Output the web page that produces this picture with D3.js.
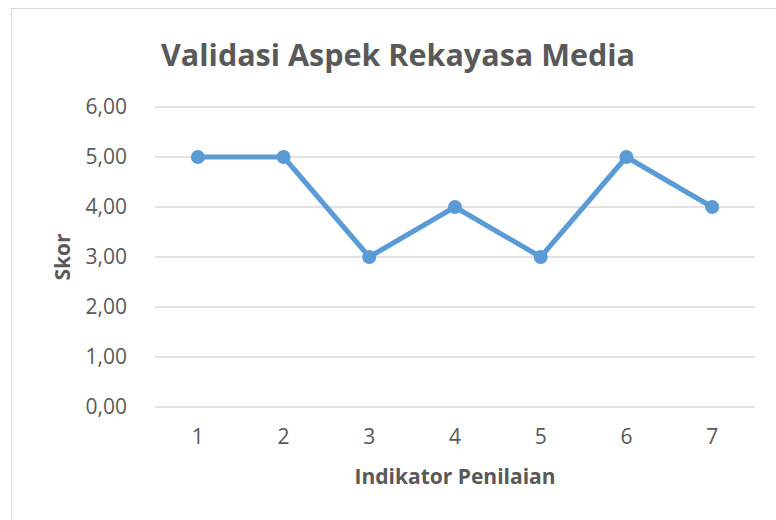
<!DOCTYPE html>
<html>
<head>
<meta charset="utf-8">
<script src="https://cdn.jsdelivr.net/npm/d3@7"></script>
<style>
  body { margin: 0; background: #fff; }
  text { font-family: "Open Sans", sans-serif; fill: #595959; }
</style>
</head>
<body>
<div id="chart"></div>
<script>
var categories = ["1", "2", "3", "4", "5", "6", "7"];
var skor = [5, 5, 3, 4, 3, 5, 4];
var yTicks = [0, 1, 2, 3, 4, 5, 6];

var margin = { top: 107, right: 21, bottom: 113, left: 155 };
var width = 776 - margin.left - margin.right;
var height = 520 - margin.top - margin.bottom;

var svg = d3.select("#chart")
    .append("svg")
    .attr("width", 776)
    .attr("height", 520);

// chart frame
svg.append("rect")
    .attr("x", 11.5).attr("y", 8.5)
    .attr("width", 800).attr("height", 600)
    .attr("fill", "none")
    .attr("stroke", "#d9d9d9");

var fig = svg.append("g")
    .attr("transform", "translate(" + margin.left + "," + margin.top + ")");

var x = d3.scaleBand()
    .domain(categories)
    .range([0, width]);

var y = d3.scaleLinear()
    .domain([0, 6])
    .range([height, 0]);

// gridlines
fig.selectAll(".grid")
    .data(yTicks)
    .enter().append("line")
    .attr("x1", 0).attr("x2", width)
    .attr("y1", d => y(d)).attr("y2", d => y(d))
    .attr("stroke", "#d9d9d9")
    .attr("stroke-width", 1.3);

var yAxis = fig.append("g")
    .call(d3.axisLeft(y).tickValues(yTicks)
        .tickFormat(d => d3.format(".2f")(d).replace(".", ","))
        .tickSize(0).tickPadding(28));
yAxis.select(".domain").remove();
yAxis.selectAll("text").style("font-size", "21px").attr("fill", "#595959");

var xAxis = fig.append("g")
    .attr("transform", "translate(0," + height + ")")
    .call(d3.axisBottom(x).tickSize(0).tickPadding(22));
xAxis.select(".domain").remove();
xAxis.selectAll("text").style("font-size", "21px").attr("fill", "#595959");

var line = d3.line()
    .x((d, i) => x(categories[i]) + x.bandwidth() / 2)
    .y(d => y(d));

fig.append("path")
    .datum(skor)
    .attr("d", line)
    .attr("fill", "none")
    .attr("stroke", "#5b9bd5")
    .attr("stroke-width", 5)
    .attr("stroke-linejoin", "round");

fig.selectAll("circle")
    .data(skor)
    .enter().append("circle")
    .attr("cx", (d, i) => x(categories[i]) + x.bandwidth() / 2)
    .attr("cy", d => y(d))
    .attr("r", 7)
    .attr("fill", "#5b9bd5");

svg.append("text")
    .attr("x", 398).attr("y", 66)
    .attr("text-anchor", "middle")
    .style("font-size", "30.5px")
    .style("font-weight", "bold")
    .text("Validasi Aspek Rekayasa Media");

svg.append("text")
    .attr("x", 455).attr("y", 484)
    .attr("text-anchor", "middle")
    .style("font-size", "21px")
    .style("font-weight", "bold")
    .text("Indikator Penilaian");

svg.append("text")
    .attr("transform", "translate(70,257) rotate(-90)")
    .attr("text-anchor", "middle")
    .style("font-size", "21px")
    .style("font-weight", "bold")
    .text("Skor");
</script>
</body>
</html>
